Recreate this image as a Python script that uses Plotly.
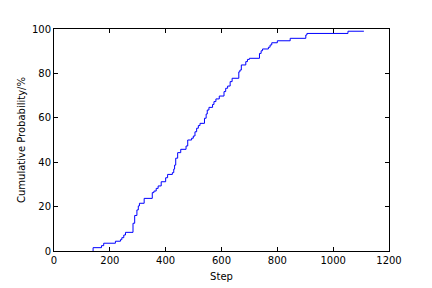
import plotly.graph_objects as go

steps = [140, 140, 170, 178, 220, 238, 243, 250, 256, 283, 289, 297, 302, 306, 323,
         352, 358, 366, 373, 384, 400, 407, 424, 429, 432, 436, 443, 454, 473, 479,
         493, 499, 505, 511, 517, 523, 539, 545, 549, 555, 568, 573, 580, 592, 609,
         615, 622, 631, 638, 662, 666, 671, 687, 693, 700, 736, 742, 747, 768, 774,
         780, 800, 846, 902, 906, 1053, 1110]
cum_prob = [0, 1.5, 2.4, 3.5, 4.4, 5.1, 6, 7.2, 8.4, 12.5, 16, 18.5, 20.3, 21.5, 23.7,
            26.3, 27, 28.2, 29.3, 31.2, 33, 34.5, 35.3, 36.9, 38.7, 41.8, 44.3, 45.8, 47.3, 50,
            50.8, 51.8, 53.7, 55.3, 56.5, 57.5, 59.8, 61.7, 63.5, 64.7, 66, 67.3, 68.5, 69.8, 71.8,
            73.3, 74.3, 76.3, 77.8, 80.7, 81.5, 83.8, 85.3, 86.3, 86.8, 89, 90.2, 91, 91.8, 92.8,
            93.8, 94.7, 95.8, 97.3, 98, 99, 99]

x_ticks = [0, 200, 400, 600, 800, 1000, 1200]
y_ticks = [0, 20, 40, 60, 80, 100]

fig = go.Figure()
fig.add_trace(go.Scatter(x=steps, y=cum_prob, mode="lines",
                         line=dict(color="#0000ff", width=1, shape="hv"),
                         showlegend=False))

axis_common = dict(showgrid=False, zeroline=False, showline=True, linecolor="black",
                   linewidth=1, mirror="ticks", ticks="inside", ticklen=4, automargin=False,
                   tickcolor="black", tickfont=dict(family="DejaVu Sans", size=10, color="black"))

fig.update_layout(
    width=432, height=288,
    margin=dict(l=54, r=43, t=29, b=37),
    paper_bgcolor="white", plot_bgcolor="white",
    font=dict(family="DejaVu Sans", size=10, color="black"),
    xaxis=dict(range=[0, 1200], tickvals=x_ticks, title=dict(text="Step", standoff=7,
               font=dict(size=10)), **axis_common),
    yaxis=dict(range=[0, 100], tickvals=y_ticks, title=dict(text="Cumulative Probability/%",
               standoff=4, font=dict(size=10)), **axis_common),
)

fig.write_html("out.html")
